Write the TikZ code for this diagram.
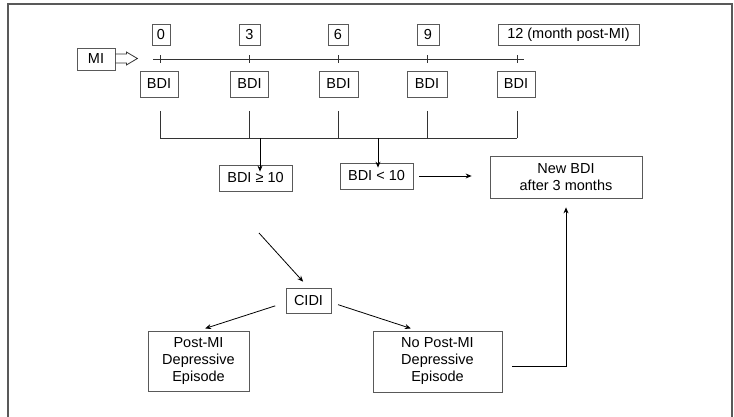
\documentclass[tikz,border=0pt]{standalone}
\usepackage{fontspec}
\setmainfont{Liberation Sans}
\usepackage{tikz}
\usetikzlibrary{arrows.meta}

\tikzset{
	box/.style={draw=black!65, line width=0.8pt, inner sep=0pt, minimum height=26pt, align=center, font=\fontsize{14.5}{17}\selectfont},
	arr/.style={-{Stealth[length=6pt,width=5pt]}, line width=0.8pt},
	ln/.style={line width=0.8pt, draw=black!80}
}

\begin{document}
\begin{tikzpicture}[x=1pt,y=-1pt]
	\useasboundingbox (0,0) rectangle (734,417);
	% outer frame, open at the bottom
	\draw[line width=1.6pt, draw=black!65] (8,417) -- (8,4) -- (732,4) -- (732,417);

	% time axis
	\node[box, minimum width=38pt, minimum height=22pt] (mi) at (96,59) {MI};
	\node[box, minimum width=18pt, minimum height=21pt] (m0) at (161,34.5) {0};
	\node[box, minimum width=21pt, minimum height=21pt] (m3) at (249.5,34.5) {3};
	\node[box, minimum width=20pt, minimum height=21pt] (m6) at (338,34.5) {6};
	\node[box, minimum width=22pt, minimum height=21pt] (m9) at (428,34.5) {9};
	\node[box, minimum width=141pt, minimum height=21pt] (m12) at (568.5,34.5) {12 (month post-MI)};

	\coordinate (t0) at (160,59);
	\coordinate (t3) at (249,59);
	\coordinate (t6) at (338,59);
	\coordinate (t9) at (427,59);
	\coordinate (t12) at (517,59);
	\draw[ln] (153,59) -- (524,59);
	\foreach \t in {t0,t3,t6,t9,t12}
		\draw[ln] ([yshift=-4pt]\t) -- ([yshift=4pt]\t);

	% hollow arrow from MI
	\draw[ln, line join=miter] (mi.east) ++(0,-5) -- ++(11,0) -- ++(0,-2) -- ++(11,6.5) -- ++(-11,6.5) -- ++(0,-2) -- ++(-11,0);

	% BDI measurements
	\node[box, minimum width=38pt] (b0) at (159,84) {BDI};
	\node[box, minimum width=38pt] (b3) at (249.5,84) {BDI};
	\node[box, minimum width=39pt] (b6) at (338.5,84) {BDI};
	\node[box, minimum width=40pt] (b9) at (427,84) {BDI};
	\node[box, minimum width=38pt] (b12) at (516,84) {BDI};

	% bracket
	\coordinate (k0) at (160,138);
	\coordinate (k12) at (517,138);
	\foreach \x in {160,249,338,427,517}
		\draw[ln] (\x,111) -- (\x,138);
	\draw[ln] (k0) -- (k12);

	% decision
	\node[box, minimum width=73pt] (ge) at (255.5,178) {BDI ≥ 10};
	\node[box, minimum width=73pt] (lt) at (376.5,176) {BDI < 10};
	\node[box, minimum width=152pt, minimum height=42pt] (new) at (566,177) {New BDI\\after 3 months};
	\coordinate (s1) at (260,138);
	\coordinate (s2) at (378,138);
	\draw[arr] (s1) -- ([yshift=-7pt]ge.north -| s1);
	\draw[arr] (s2) -- ([yshift=-5pt]lt.north -| s2);
	\draw[arr, shorten <=6pt, shorten >=18pt] (lt.east) -- (lt.east -| new.west);

	% interview
	\node[box, minimum width=45pt, minimum height=25pt] (cidi) at (308.5,300.5) {CIDI};
	\node[box, minimum width=101pt, minimum height=60pt] (post) at (198.5,361) {Post-MI\\Depressive\\Episode};
	\node[box, minimum width=129pt, minimum height=61pt] (nopost) at (437.5,361.5) {No Post-MI\\Depressive\\Episode};

	\coordinate (d1) at (259,233);
	\draw[arr, shorten >=8pt] (d1) -- (cidi.north);
	\draw[arr, shorten <=11pt, shorten >=7pt] ([yshift=-2pt]cidi.west) -- (post.north);
	\draw[arr, shorten <=7pt, shorten >=7pt] ([yshift=-2pt]cidi.east) -- ([xshift=-20pt]nopost.north);
	\draw[arr, shorten >=9pt] ([xshift=10pt,yshift=-5pt]nopost.east) -| (new.south);
\end{tikzpicture}
\end{document}
